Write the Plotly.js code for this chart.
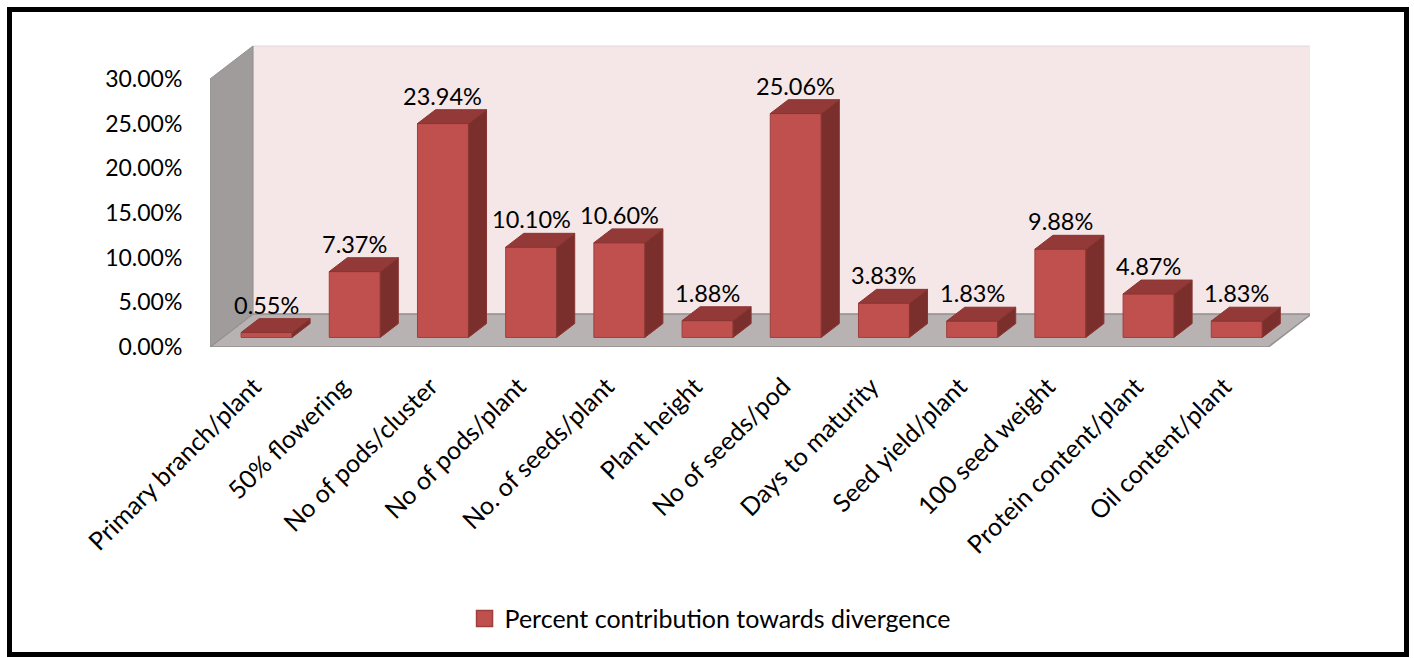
<!DOCTYPE html>
<html>
<head>
<meta charset="utf-8">
<script src="https://cdn.plot.ly/plotly-3.0.1.min.js"></script>
<style>
  html, body { margin: 0; padding: 0; background: #fff; }
  #chart { position: absolute; left: 0; top: 0; width: 1414px; height: 658px; }
  #frame { position: absolute; left: 7px; top: 7px; width: 1402px; height: 650px;
           box-sizing: border-box; border: 5px solid #000; pointer-events: none; }
</style>
</head>
<body>
<div id="chart"></div>
<div id="frame"></div>
<script>
// ---- data ----
const categories = [
  "Primary branch/plant", "50% flowering", "No of pods/cluster", "No of pods/plant",
  "No. of seeds/plant", "Plant height", "No of seeds/pod", "Days to maturity",
  "Seed yield/plant", "100 seed weight", "Protein content/plant", "Oil content/plant"
];
const percentContribution = [0.55, 7.37, 23.94, 10.10, 10.60, 1.88, 25.06, 3.83, 1.83, 9.88, 4.87, 1.83];
const seriesName = "Percent contribution towards divergence";
const yTickValues = [0, 5, 10, 15, 20, 25, 30];

// ---- geometry of the pseudo-3D box (axis units) ----
const PX_PER_CAT = 88.2;           // pixels per category
const PX_PER_PCT = 268 / 30;       // pixels per percent
const DX = 43 / PX_PER_CAT;        // depth shift in x (categories)
const DY = 33 / PX_PER_PCT;        // depth shift in y (percent)
const F1 = 0.29;                   // depth of bar front face
const G = 0.42;                    // bar depth fraction
const W = 0.578;                   // bar width (categories)
const n = categories.length;
const yMax = 30;

const idx = categories.map((_, i) => i);
const frontX = idx.map(i => i + F1 * DX);
const baseY = F1 * DY;

// polygons for top and side faces
const topX = [], topY = [], sideX = [], sideY = [];
percentContribution.forEach((v, i) => {
  const xl = frontX[i] - W / 2, xr = frontX[i] + W / 2;
  const y0 = baseY, yt = baseY + v;
  const ddx = G * DX, ddy = G * DY;
  topX.push(xl, xr, xr + ddx, xl + ddx, xl, null);
  topY.push(yt, yt, yt + ddy, yt + ddy, yt, null);
  sideX.push(xr, xr + ddx, xr + ddx, xr, xr, null);
  sideY.push(y0, y0 + ddy, yt + ddy, yt, y0, null);
});

const FONT = "Lato, 'Open Sans', sans-serif";

const traces = [
  {
    type: "bar", name: seriesName, x: frontX, y: percentContribution, base: baseY, width: W,
    marker: { color: "#C0504D", line: { color: "#9E3F3C", width: 1 } },
    hoverinfo: "skip", showlegend: false
  },
  {
    type: "scatter", mode: "lines", x: sideX, y: sideY, fill: "toself",
    fillcolor: "#7B2F2D", line: { color: "#8A3532", width: 1 },
    hoverinfo: "skip", showlegend: false
  },
  {
    type: "scatter", mode: "lines", x: topX, y: topY, fill: "toself",
    fillcolor: "#933A38", line: { color: "#8A3532", width: 1 },
    hoverinfo: "skip", showlegend: false
  },
  {
    // legend entry for the series (larger square key like the original)
    type: "scatter", mode: "markers", name: seriesName, x: [null], y: [null],
    marker: { symbol: "square", size: 16, color: "#C0504D", line: { color: "#9E3F3C", width: 1.5 } },
    hoverinfo: "skip", showlegend: true
  }
];

const x0 = -0.5, x1 = n - 0.5;
const shapes = [
  // back wall
  { type: "path", xref: "x", yref: "y", layer: "below",
    path: `M ${x0 + DX} ${DY} L ${x1 + DX} ${DY} L ${x1 + DX} ${yMax + DY} L ${x0 + DX} ${yMax + DY} Z`,
    fillcolor: "#F5E7E7", line: { color: "#E6D8D8", width: 1 } },
  // floor
  { type: "path", xref: "x", yref: "y", layer: "below",
    path: `M ${x0} 0 L ${x1} 0 L ${x1 + DX} ${DY} L ${x0 + DX} ${DY} Z`,
    fillcolor: "#B9B2B2", line: { color: "#929090", width: 1.5 } },
  // left wall
  { type: "path", xref: "x", yref: "y", layer: "below",
    path: `M ${x0} 0 L ${x0} ${yMax} L ${x0 + DX} ${yMax + DY} L ${x0 + DX} ${DY} Z`,
    fillcolor: "#A09C9C", line: { color: "#929090", width: 1 } }
];

const annotations = percentContribution.map((v, i) => ({
  x: frontX[i], y: baseY + v + G * DY, xref: "x", yref: "y",
  text: v.toFixed(2) + "%", showarrow: false, yanchor: "bottom", xanchor: "center",
  yshift: -2, font: { family: FONT, size: 23.5, color: "#000" }
}));

const plotTop = 40, plotBottom = 347, plotLeft = 210, plotRight = 1310;
const layout = {
  width: 1414, height: 658,
  margin: { l: plotLeft, r: 1414 - plotRight, t: plotTop, b: 658 - plotBottom, pad: 0 },
  paper_bgcolor: "#fff", plot_bgcolor: "rgba(0,0,0,0)",
  font: { family: FONT, size: 23, color: "#000" },
  showlegend: true,
  legend: {
    orientation: "h", x: 0.2314, y: -0.81, xanchor: "left", yanchor: "top",
    font: { family: FONT, size: 25, color: "#000" }, bgcolor: "rgba(0,0,0,0)"
  },
  xaxis: {
    range: [x0, x0 + (plotRight - plotLeft) / PX_PER_CAT],
    tickmode: "array", tickvals: idx, ticktext: categories, tickangle: -45,
    ticks: "outside", ticklen: 14, tickcolor: "rgba(0,0,0,0)",
    showgrid: false, zeroline: false, showline: false, fixedrange: true,
    tickfont: { family: FONT, size: 25, color: "#000" }
  },
  yaxis: {
    range: [0, (plotBottom - plotTop) / PX_PER_PCT],
    tickmode: "array", tickvals: yTickValues, ticktext: yTickValues.map(v => v.toFixed(2) + "%"),
    ticks: "outside", ticklen: 22, tickcolor: "rgba(0,0,0,0)",
    showgrid: false, zeroline: false, showline: false, fixedrange: true,
    tickfont: { family: FONT, size: 23, color: "#000" }
  },
  shapes: shapes,
  annotations: annotations,
  bargap: 0
};

Plotly.newPlot("chart", traces, layout, { displayModeBar: false, staticPlot: true });
</script>
</body>
</html>
